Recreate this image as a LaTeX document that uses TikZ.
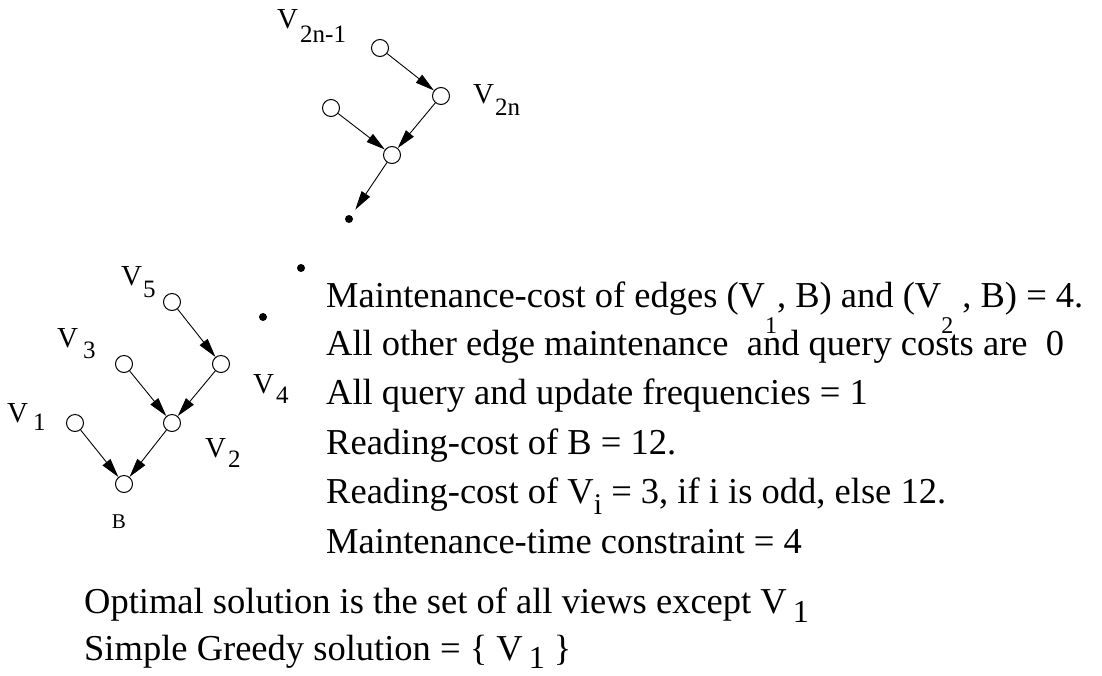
\documentclass[tikz,border=0pt]{standalone}
\usepackage{fontspec}
\setmainfont{Liberation Serif}
\usetikzlibrary{arrows.meta}
\newcommand\lowsub[3]{\raisebox{-#1}{\fontsize{#2}{#2}\selectfont #3}}
\begin{document}
\begin{tikzpicture}[x=1pt,y=-1pt,
  vc/.style={circle,draw,line width=1pt,minimum size=17pt,inner sep=0pt},
  dotn/.style={circle,fill,minimum size=8pt,inner sep=0pt},
  edge/.style={line width=0.9pt,-{Triangle[length=19pt,width=10pt]}},
  main/.style={anchor=base west,inner sep=0pt,font=\fontsize{36.5}{44}\selectfont},
  lblv/.style={anchor=base west,inner sep=0pt,font=\fontsize{29}{30}\selectfont},
  lbls/.style={anchor=base west,inner sep=0pt,font=\fontsize{25}{26}\selectfont}]
\useasboundingbox (0,0) rectangle (1102,675);
% upper graph
\node[vc] (t1) at (380,48) {};
\node[vc] (t2) at (441,96) {};
\node[vc] (t3) at (331,108) {};
\node[vc] (t4) at (392,155) {};
\node[dotn] (d1) at (349,219) {};
\node[dotn] (d2) at (301,268) {};
\node[dotn] (d3) at (263,317) {};
\draw[edge] (t1) -- (t2);
\draw[edge] (t2) -- (t4);
\draw[edge] (t3) -- (t4);
\draw[edge,shorten >=7pt] (t4) -- (d1);
% lower graph
\node[vc] (v5) at (172,302) {};
\node[vc] (v4) at (221,364) {};
\node[vc] (v3) at (124,364) {};
\node[vc] (v2) at (172,423) {};
\node[vc] (v1) at (75,423) {};
\node[vc] (b) at (124,484) {};
\draw[edge] (v5) -- (v4);
\draw[edge] (v4) -- (v2);
\draw[edge] (v3) -- (v2);
\draw[edge] (v2) -- (b);
\draw[edge] (v1) -- (b);
% labels
\node[lblv] (l2n1) at (277,28) {V};
\node[lbls] (s2n1) at (300,42) {2n-1};
\node[lblv] (l2n) at (473,103) {V};
\node[lbls] (s2n) at (495,115) {2n};
\node[lblv] (l5) at (121,285) {V};
\node[lbls] (s5) at (143,297) {5};
\node[lblv] (l3) at (57,347) {V};
\node[lbls] (s3) at (83,358) {3};
\node[lblv] (l1) at (7,422) {V};
\node[lbls] (s1) at (33,430) {1};
\node[lblv] (l4) at (253,393) {V};
\node[lbls] (s4) at (276,403) {4};
\node[lblv] (l2) at (205,457) {V};
\node[lbls] (s2) at (228,467) {2};
\node[inner sep=0pt,font=\fontsize{21}{21}\selectfont] (lb) at (119,522) {B};
% text
\node[main] (m1) at (326,307) {Maintenance-cost of edges (V\lowsub{26pt}{24}{1}, B) and (V\lowsub{26pt}{24}{2} , B) = 4.};
\node[main] (m2) at (326,355) {All other edge maintenance\ \ and query costs are\ \ 0};
\node[main] (m3) at (326,404) {All query and update frequencies = 1};
\node[main] (m4) at (326,454) {Reading-cost of B = 12.};
\node[main] (m5) at (326,503) {Reading-cost of V\lowsub{11pt}{30}{i} = 3, if i is odd, else 12.};
\node[main] (m6) at (326,553) {Maintenance-time constraint = 4};
\node[main] (m7) at (84,613) {Optimal solution is the set of all views except V\,\lowsub{9pt}{32}{1}};
\node[main] (m8) at (84,660) {Simple Greedy solution = \{ V\,\lowsub{8pt}{32}{1} \}};
\end{tikzpicture}
\end{document}
